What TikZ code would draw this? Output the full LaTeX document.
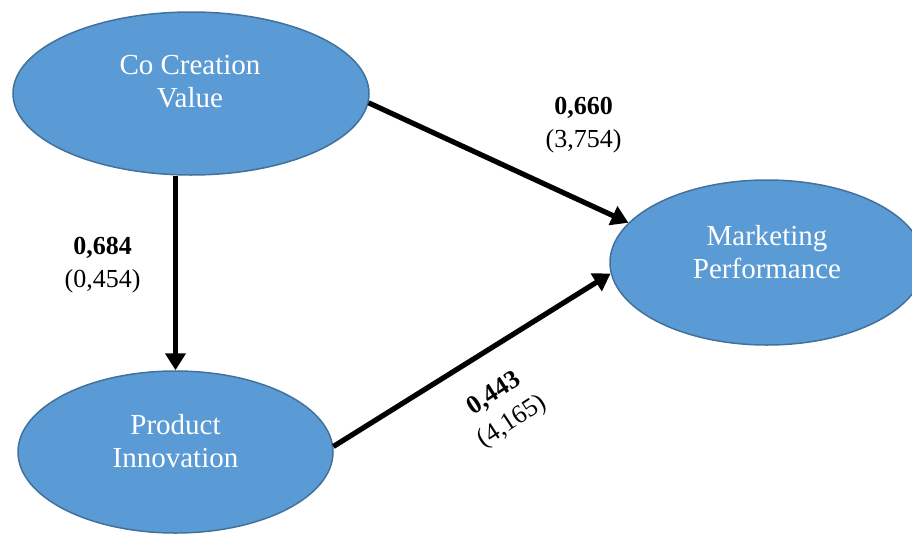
\documentclass[tikz,border=0pt]{standalone}
\usepackage{fontspec}
\setmainfont{Liberation Serif}
\usetikzlibrary{shapes.geometric,arrows.meta}
\definecolor{bubble}{HTML}{5B9BD5}
\definecolor{bubbleedge}{HTML}{41719C}
\begin{document}
\begin{tikzpicture}[x=1pt,y=-1pt,
  construct/.style={ellipse, draw=bubbleedge, fill=bubble, line width=1.5pt, inner sep=0pt},
  ctext/.style={text=white, align=center, font=\fontsize{29}{33}\selectfont},
  link/.style={line width=5.2pt, -{Triangle[length=17pt,width=20pt]}},
  coef/.style={align=center, font=\fontsize{26}{33}\selectfont}]
\useasboundingbox (0,0) rectangle (912,533);
\clip (0,0) rectangle (912,533);

% latent constructs
\node[construct, minimum width=356pt, minimum height=163pt] (cc) at (191,93.5) {};
\node[construct, minimum width=314pt, minimum height=165pt] (mp) at (767,262.5) {};
\node[construct, minimum width=315pt, minimum height=162pt] (pi) at (175.5,452) {};

\node[ctext] (cct) at (190,81.5) {Co Creation\\Value};
\node[ctext] (mpt) at (767,252.5) {Marketing\\Performance};
\node[ctext] (pit) at (175.5,441.5) {Product\\Innovation};

% structural paths
\draw[link] (cc.-3) -- (mp.164);
\draw[link] (pi.2) -- (mp.184);
\draw[link] (pi.north |- cc.south) -- (pi.north);

% path coefficients (t-values)
\node[coef] (c1) at (583.5,125.5) {\textbf{0,660}\\(3,754)};
\node[coef] (c2) at (102.5,265) {\textbf{0,684}\\(0,454)};
\node[coef, rotate=33] (c3) at (503.5,408.5) {\textbf{0,443}\\(4,165)};
\end{tikzpicture}
\end{document}
